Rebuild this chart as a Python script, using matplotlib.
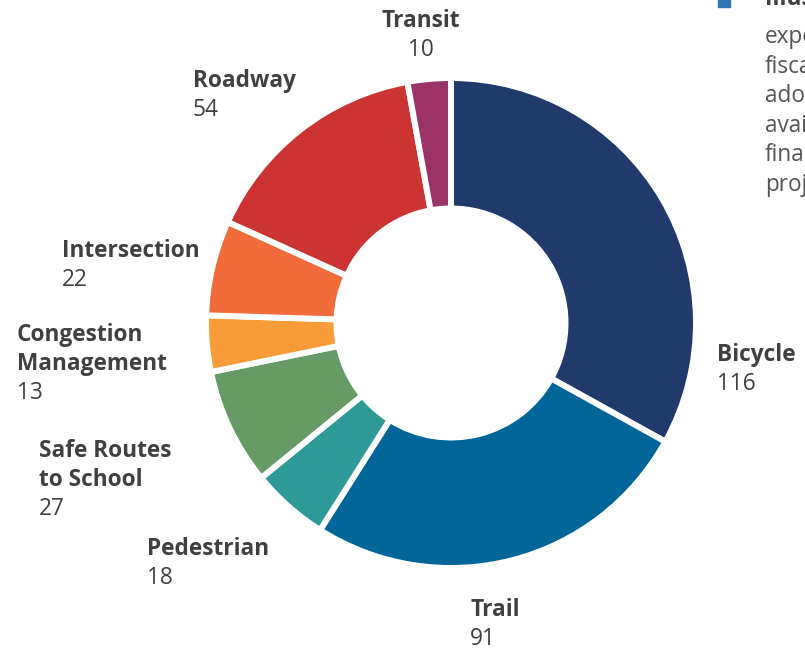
import matplotlib.pyplot as plt
from matplotlib.patches import Rectangle

plt.rcParams['font.family'] = ['Open Sans', 'DejaVu Sans']

# project counts by category, clockwise from 12 o'clock
categories = ["Bicycle", "Trail", "Pedestrian", "Safe Routes\nto School",
              "Congestion\nManagement", "Intersection", "Roadway", "Transit"]
counts = [116, 91, 18, 27, 13, 22, 54, 10]
colors = ["#1F3A6B", "#00669A", "#2E9A98", "#679B66",
          "#F99B38", "#F26B3A", "#CC3333", "#9B3366"]

# label anchors (x, top-line y in image pixels) and alignment
label_pos = [(717, 355, "left"), (470, 610, "left"), (147, 549, "left"),
             (39, 451, "left"), (17, 335, "left"), (62, 251, "left"),
             (193, 81, "left"), (421, 21, "center")]

side_lines = ["Illustrative", "expenditures", "fiscally", "adopted",
              "available", "financial", "projects"]

W, H = 805, 651
fig = plt.figure(figsize=(W / 100, H / 100), dpi=100)
ax = fig.add_axes([0, 0, 1, 1])

cx, cy = 451, H - 323
r_out = 245
r_in = 114.5
ax.pie(counts, colors=colors, startangle=90, counterclock=False,
       radius=r_out, center=(cx, cy), frame=True,
       wedgeprops=dict(width=r_out - r_in, edgecolor="white", linewidth=4.3))
ax.set_xlim(0, W)
ax.set_ylim(0, H)
ax.set_aspect('equal')
ax.axis('off')

fs = 16.3
line_h = 29
for name, val, (x, y, ha) in zip(categories, counts, label_pos):
    lines = name.split("\n")
    for i, ln in enumerate(lines):
        ax.text(x, H - (y + i * line_h), ln, ha=ha, va="center",
                fontsize=fs, fontweight="bold", color="#404040")
    ax.text(x, H - (y + len(lines) * line_h), str(val), ha=ha, va="center",
            fontsize=fs, color="#404040")

# side note, running off the right edge
ax.add_patch(Rectangle((718, H - 7), 12, 14, color="#2E75B6", clip_on=False))
ax.text(765, H + 1, side_lines[0], ha="left", va="center",
        fontsize=fs, fontweight="bold", color="#404040")
for i, ln in enumerate(side_lines[1:]):
    ax.text(765, H - (37 + i * 29.6), ln, ha="left", va="center",
            fontsize=fs, color="#555555")

fig.savefig("out.png", dpi=100)
